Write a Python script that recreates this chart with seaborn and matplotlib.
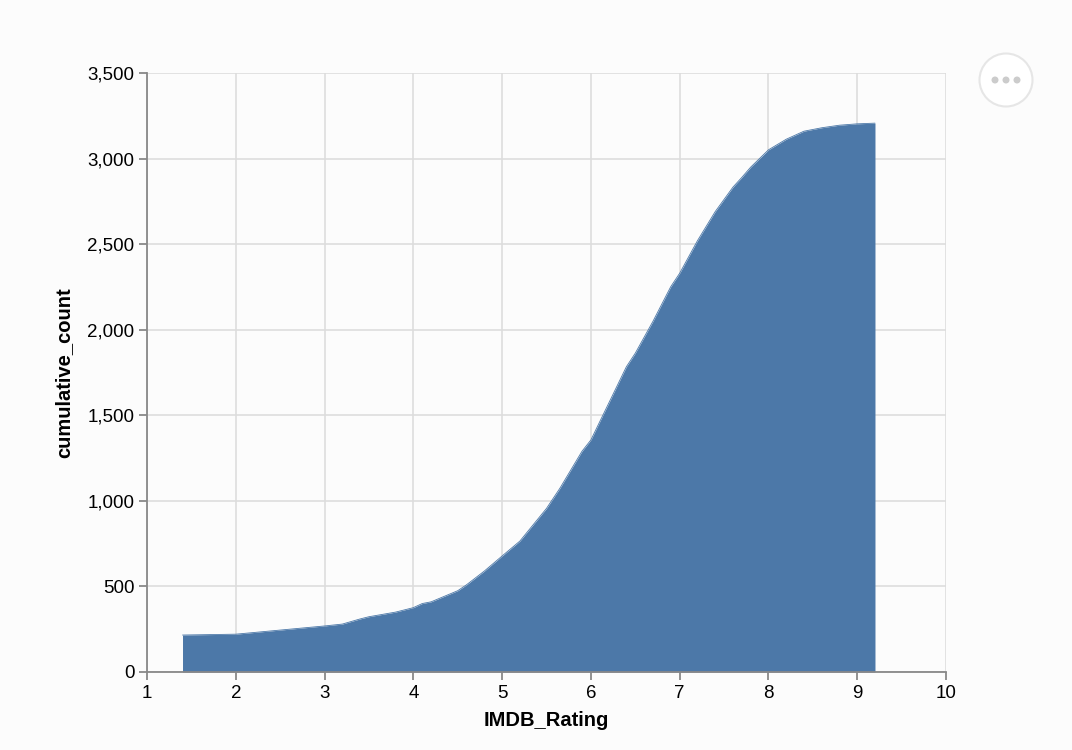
import matplotlib
matplotlib.use("Agg")
import matplotlib.pyplot as plt
import matplotlib.ticker as mticker
from matplotlib.patches import Circle
import seaborn as sns
import pandas as pd

# --- data ---
rating = [1.4, 2.0, 2.5, 3.0, 3.2, 3.4, 3.5, 3.8, 4.0, 4.1, 4.2, 4.5, 4.6, 4.8,
          5.0, 5.2, 5.5, 5.65, 5.9, 6.0, 6.2, 6.4, 6.5, 6.7, 6.9, 7.0, 7.2,
          7.4, 7.6, 7.7, 7.8, 8.0, 8.2, 8.4, 8.6, 8.8, 9.0, 9.2]
cumulative = [216, 221, 245, 269, 280, 310, 323, 350, 376, 400, 410, 475, 510, 590,
              678, 765, 956, 1073, 1290, 1356, 1570, 1784, 1863, 2050, 2252, 2330, 2520,
              2690, 2833, 2890, 2950, 3051, 3113, 3160, 3180, 3195, 3203, 3207]
x_ticks = list(range(1, 11))
y_ticks = list(range(0, 3501, 500))

df = pd.DataFrame({"IMDB_Rating": rating, "cumulative_count": cumulative})

sns.set_style("whitegrid")
plt.rcParams['font.family'] = ['Liberation Sans', 'DejaVu Sans']

bg = "#fcfcfc"
fig = plt.figure(figsize=(10.72, 7.5), dpi=100, facecolor=bg)
ax = fig.add_axes([147 / 1072, 1 - 672 / 750, 799 / 1072, 599 / 750])
ax.set_facecolor(bg)

# area: seaborn line for the edge, fill below
sns.lineplot(data=df, x="IMDB_Rating", y="cumulative_count", ax=ax,
             color="#4c78a8", linewidth=0.6)
ax.fill_between(df["IMDB_Rating"], 0, df["cumulative_count"],
                color="#4c78a8", linewidth=0, zorder=2)

ax.set_xlim(1, 10)
ax.set_ylim(0, 3500)
ax.set_xticks(x_ticks)
ax.set_yticks(y_ticks)
ax.yaxis.set_major_formatter(mticker.FuncFormatter(lambda v, p: f"{int(v):,}"))

ax.grid(True, color="#dddddd", linewidth=1.2)
ax.set_axisbelow(True)
for s in ["top", "right"]:
    ax.spines[s].set_visible(False)
for s in ["left", "bottom"]:
    ax.spines[s].set_color("#888888")
    ax.spines[s].set_linewidth(1.3)
    ax.spines[s].set_zorder(3)

ax.tick_params(axis="both", which="major", length=6, width=1.3, color="#888888",
               labelsize=13.5, labelcolor="black", pad=3, direction="out",
               bottom=True, left=True)

ax.set_xlabel("IMDB_Rating", fontsize=14.5, fontweight="bold", labelpad=7, color="black")
ax.set_ylabel("cumulative_count", fontsize=14.5, fontweight="bold", labelpad=10, color="black")

# the "..." actions button at the top right
fig.patches.append(Circle((10.06, 7.5 - 0.80), 0.265, transform=fig.dpi_scale_trans,
                          facecolor="white", edgecolor="#e6e6e6", linewidth=1.5))
for dx in (-0.11, 0, 0.11):
    fig.patches.append(Circle((10.06 + dx, 7.5 - 0.80), 0.035,
                              transform=fig.dpi_scale_trans, facecolor="#cccccc",
                              edgecolor="none"))

fig.savefig("out.png", dpi=100, facecolor=bg)
